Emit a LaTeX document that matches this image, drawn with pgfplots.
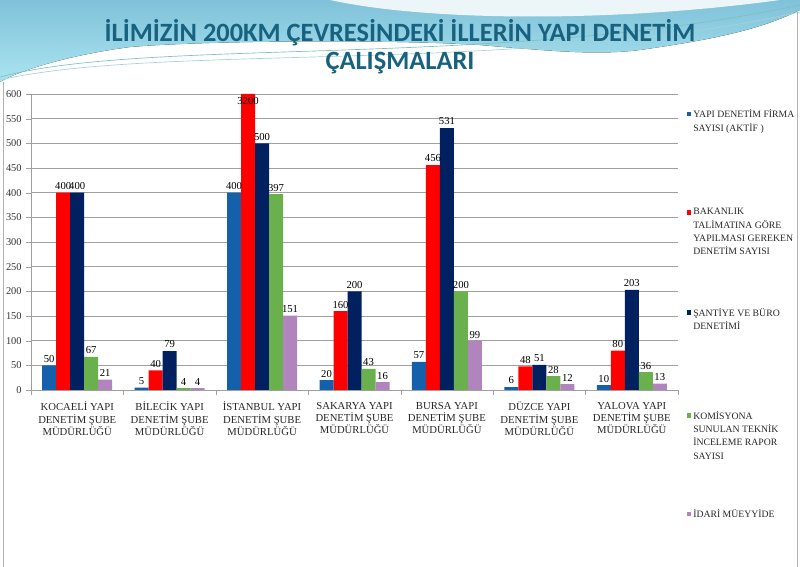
\documentclass[border=0pt]{standalone}
\usepackage{fontspec}
\setmainfont{Liberation Serif}
\newfontfamily\titlefont{Carlito}
\usepackage{pgfplots}
\usepackage{pgfplotstable}
\pgfplotsset{compat=1.18}
\definecolor{cblue}{RGB}{21,96,171}
\definecolor{cred}{RGB}{255,0,0}
\definecolor{cnavy}{RGB}{0,32,96}
\definecolor{cgreen}{RGB}{106,176,76}
\definecolor{cpurple}{RGB}{178,132,190}
\definecolor{ctitle}{RGB}{24,98,128}
\definecolor{bgtop}{RGB}{128,194,218}
\definecolor{bgbot}{RGB}{170,228,240}
\definecolor{gridc}{RGB}{160,160,160}

% red column: Istanbul value 3200 is drawn clipped at the axis top (600)
\pgfplotstableread{
x blue red  navy green purple
0 50  400  400  67  21
1 5   40   79   4   4
2 400 3200 500  397 151
3 20  160  200  43  16
4 57  456  531  200 99
5 6   48   51   28  12
6 10  80   203  36  13
}\data

\begin{document}
\begin{tikzpicture}[x=0.75pt,y=0.75pt]
\path[use as bounding box] (0,0) rectangle (800,567);
% decorative header
\fill[top color=bgtop, bottom color=bgbot] (0,567) -- (800,567) -- (800,557)
  .. controls (760,537) and (710,527) .. (640,517)
  .. controls (600,512) and (560,515) .. (480,522)
  .. controls (380,528) and (200,526) .. (130,520)
  .. controls (70,512) and (20,497) .. (0,485) -- cycle;
\fill[white, opacity=0.85] (330,567) .. controls (430,545) and (620,545) .. (780,567) -- cycle;
\draw[teal!50, line width=0.5pt] (0,490) .. controls (150,530) and (500,498) .. (800,562);
\draw[teal!35, line width=0.5pt] (0,487) .. controls (160,524) and (520,492) .. (800,555);
\draw[gray!60] (3,0) -- (3,485);
\draw[gray!60] (797,0) -- (797,555);
\node[font=\titlefont\bfseries\fontsize{19.8}{21}\selectfont, text=ctitle, align=center]
  at (400,520) {İLİMİZİN 200KM ÇEVRESİNDEKİ İLLERİN YAPI DENETİM\\ÇALIŞMALARI};

\begin{axis}[
  at={(23.25pt,132.75pt)}, anchor=south west,
  scale only axis, width=485.25pt, height=222pt,
  ybar=0pt, bar width=10.5pt,
  xmin=-0.5, xmax=6.5, ymin=0, ymax=600,
  restrict y to domain*=0:600,
  ytick={0,50,...,600},
  xtick={-0.5,0.5,...,6.5},
  x tick label as interval,
  xticklabels={KOCAELİ YAPI\\DENETİM ŞUBE\\MÜDÜRLÜĞÜ,
               BİLECİK YAPI\\DENETİM ŞUBE\\MÜDÜRLÜĞÜ,
               İSTANBUL YAPI\\DENETİM ŞUBE\\MÜDÜRLÜĞÜ,
               SAKARYA YAPI\\DENETİM ŞUBE\\MÜDÜRLÜĞÜ,
               BURSA YAPI\\DENETİM ŞUBE\\MÜDÜRLÜĞÜ,
               DÜZCE YAPI\\DENETİM ŞUBE\\MÜDÜRLÜĞÜ,
               YALOVA YAPI\\DENETİM ŞUBE\\MÜDÜRLÜĞÜ},
  xticklabel style={align=center, font=\fontsize{8}{9.3}\selectfont, text=black!85, yshift=-2pt},
  yticklabel style={font=\fontsize{7.8}{8}\selectfont, text=black!80},
  axis x line*=bottom, axis y line*=left,
  axis line style={-, gridc},
  tick align=outside, major tick length=3.5pt,
  tick style={gridc},
  ymajorgrids, grid style={gridc, line width=0.6pt},
  /pgf/number format/assume math mode=true,
  /pgf/number format/1000 sep={},
  every node near coord/.append style={font=\fontsize{8}{8}\selectfont, text=black, inner sep=2pt},
  clip=false,
]
\addplot[fill=cblue, draw=none, bar shift=-21pt, nodes near coords] table[x=x, y=blue] {\data};
\addplot[fill=cred, draw=none, bar shift=-10.5pt] table[x=x, y=red] {\data};
\addplot[fill=cnavy, draw=none, bar shift=0pt, nodes near coords] table[x=x, y=navy] {\data};
\addplot[fill=cgreen, draw=none, bar shift=10.5pt, nodes near coords] table[x=x, y=green] {\data};
\addplot[fill=cpurple, draw=none, bar shift=21pt, nodes near coords] table[x=x, y=purple] {\data};
% value labels of the red series (the clipped Istanbul bar is labelled inside its top)
\addplot[draw=none, fill=none, bar shift=-10.5pt, forget plot, nodes near coords]
  coordinates {(0,400) (1,40) (3,160) (4,456) (5,48) (6,80)};
\node[font=\fontsize{8}{8}\selectfont, anchor=north, inner sep=2pt, xshift=-10.5pt] at (axis cs:2,600) {3200};
\end{axis}

% legend
\begin{scope}[every node/.style={font=\fontsize{7.3}{10}\selectfont, text=black!85, align=left, anchor=north west, inner sep=0pt}]
\fill[cblue] (686.5,450.5) rectangle (691,455);
\node at (693,457.5) {YAPI DENETİM FİRMA\\SAYISI (AKTİF )};
\fill[cred] (686.5,352) rectangle (691,356.5);
\node at (693,359) {BAKANLIK\\TALİMATINA GÖRE\\YAPILMASI GEREKEN\\DENETİM SAYISI};
\fill[cnavy] (686.5,252) rectangle (691,256.5);
\node at (693,259) {ŞANTİYE VE BÜRO\\DENETİMİ};
\fill[cgreen] (686.5,149) rectangle (691,153.5);
\node at (693,156) {KOMİSYONA\\SUNULAN TEKNİK\\İNCELEME RAPOR\\SAYISI};
\fill[cpurple] (686.5,50.5) rectangle (691,55);
\node at (693,57.5) {İDARİ MÜEYYİDE};
\end{scope}
\end{tikzpicture}
\end{document}
